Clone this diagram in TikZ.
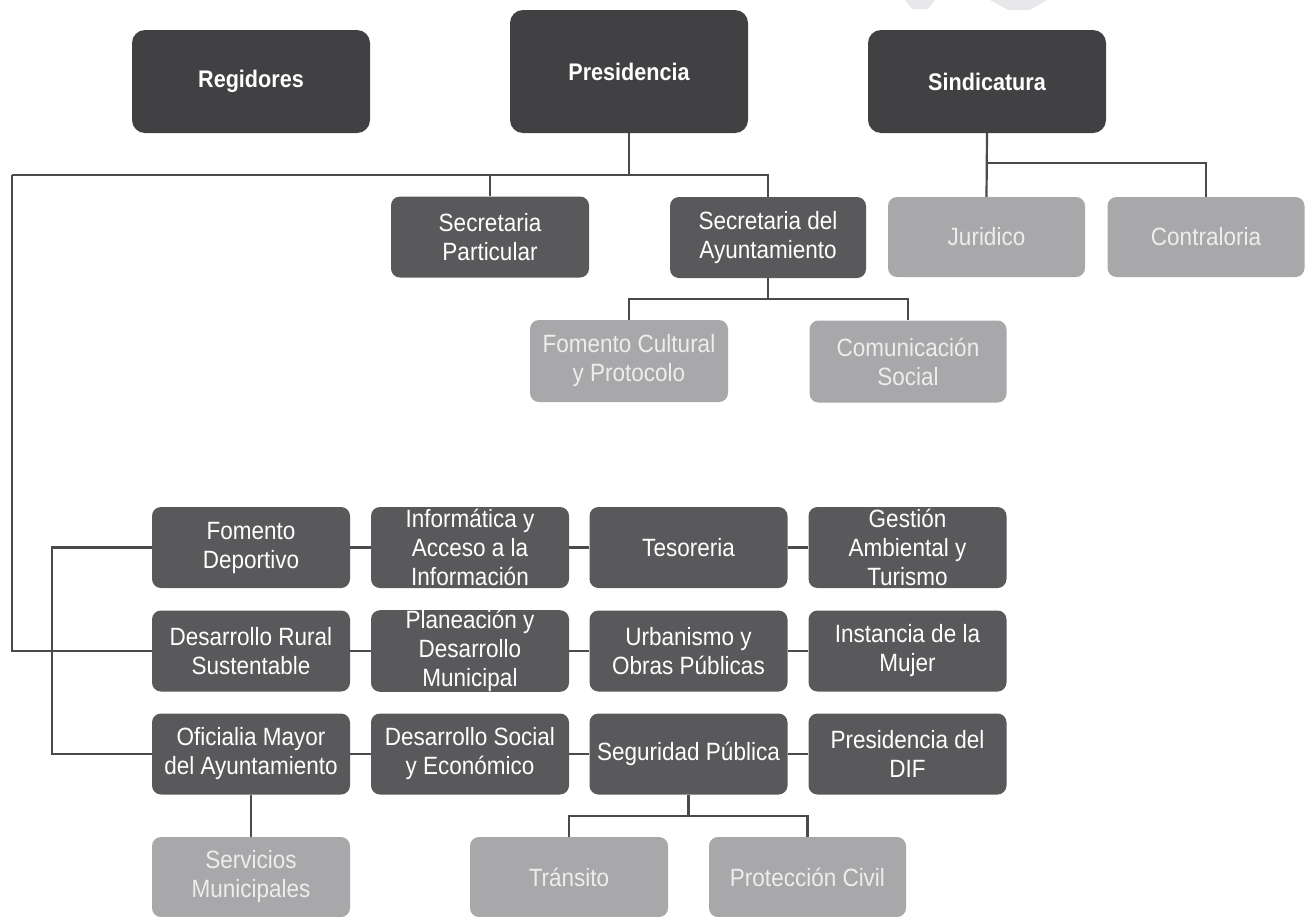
\documentclass[tikz,border=0pt]{standalone}
\usepackage{fontspec}
\setmainfont{Liberation Sans}[FakeStretch=0.9]
\newfontfamily\topfont{Liberation Sans}[FakeStretch=0.9]
\definecolor{darkbox}{HTML}{414143}
\definecolor{midbox}{HTML}{59595B}
\definecolor{lightbox}{HTML}{A8A8AA}
\definecolor{linec}{HTML}{4A4A4A}
\definecolor{lighttext}{HTML}{EDEDED}
\definecolor{wmark}{HTML}{E8E8EA}
\begin{document}
\begin{tikzpicture}[x=1pt,y=-1pt,
  base/.style={rounded corners=9pt, align=center, inner sep=0pt,
    font=\fontsize{25}{29}\selectfont},
  topbox/.style={base, rounded corners=13pt, fill=darkbox, text=white,
    minimum width=238pt, font=\topfont\bfseries\fontsize{24}{28}\selectfont},
  midbx/.style={base, fill=midbox, text=white, minimum width=198pt, minimum height=81pt},
  lightbx/.style={base, fill=lightbox, text=lighttext, minimum width=198pt, minimum height=81pt},
  conn/.style={draw=linec, line width=2.2pt}
]
\useasboundingbox (0,0) rectangle (1308,916);
% faint watermark fragments
\fill[wmark] (905,0) -- (935,0) -- (928,9) -- (912,9) -- cycle;
\fill[wmark] (990,0) -- (1047,0) -- (1030,10) -- (1008,10) -- cycle;

% top row
\node[topbox, minimum height=103pt] (reg) at (251,81.5) {Regidores};
\node[topbox, minimum height=123pt] (pres) at (629,71.5) {Presidencia};
\node[topbox, minimum height=103pt] (sind) at (987,81.5) {Sindicatura};

% second row
\node[midbx] (secp) at (490,237) {Secretaria\\Particular};
\node[midbx, minimum width=196pt] (secay) at (768,237.5) {Secretaria del\\Ayuntamiento};
\node[lightbx, minimum width=197pt, minimum height=80pt] (jur) at (986.5,237) {Juridico};
\node[lightbx, minimum width=197pt, minimum height=80pt] (contr) at (1206,237) {Contraloria};

% third row
\node[lightbx, minimum height=82pt] (fcp) at (629,361) {Fomento Cultural\\y Protocolo};
\node[lightbx, minimum width=197pt, minimum height=82pt] (cs) at (908,361.5) {Comunicación\\Social};

% grid
\node[midbx] (a1) at (251,547.5) {Fomento\\Deportivo};
\node[midbx] (b1) at (470,547.5) {Informática y\\Acceso a la\\Información};
\node[midbx] (c1) at (688.5,547.5) {Tesoreria};
\node[midbx] (d1) at (907.5,547.5) {Gestión\\Ambiental y\\Turismo};

\node[midbx] (a2) at (251,651) {Desarrollo Rural\\Sustentable};
\node[midbx] (b2) at (470,651) {Planeación y\\Desarrollo\\Municipal};
\node[midbx] (c2) at (688.5,651) {Urbanismo y\\Obras Públicas};
\node[midbx] (d2) at (907.5,651) {Instancia de la\\Mujer};

\node[midbx] (a3) at (251,754) {Oficialia Mayor\\del Ayuntamiento};
\node[midbx] (b3) at (470,754) {Desarrollo Social\\y Económico};
\node[midbx] (c3) at (688.5,754) {Seguridad Pública};
\node[midbx] (d3) at (907.5,754) {Presidencia del\\DIF};

% bottom row
\node[lightbx, minimum height=80pt] (srv) at (251,877) {Servicios\\Municipales};
\node[lightbx, minimum height=80pt] (tra) at (569,877) {Tránsito};
\node[lightbx, minimum width=197pt, minimum height=80pt] (pc) at (807.5,877) {Protección Civil};

% coordinates
\coordinate (bus) at (629,175);
\coordinate (tl) at (12,175);
\coordinate (bl) at (12,651);
\coordinate (sj) at (987,163);
\coordinate (sa) at (768,299);
\coordinate (brk) at (52,547.5);
\coordinate (sp) at (688.5,816);

% connectors
\draw[conn] (pres.south) -- (bus);
\draw[conn] (tl) -- (bus -| secay.north) -- (secay.north);
\draw[conn] (secp.north |- bus) -- (secp.north);
\draw[conn] (tl) -- (bl) -- (a2.west);
\draw[conn] (sind.south) -- (jur.north);
\draw[conn] (sj) -| (contr.north);
\draw[conn] (secay.south) -- (sa);
\draw[conn] (fcp.north) |- (sa) -| (cs.north);
\draw[conn] (a1.west) -- (brk) |- (a3.west);
\draw[conn] (a1) -- (b1); \draw[conn] (b1) -- (c1); \draw[conn] (c1) -- (d1);
\draw[conn] (a2) -- (b2); \draw[conn] (b2) -- (c2); \draw[conn] (c2) -- (d2);
\draw[conn] (a3) -- (b3); \draw[conn] (b3) -- (c3); \draw[conn] (c3) -- (d3);
\draw[conn] (a3.south) -- (srv.north);
\draw[conn] (c3.south) -- (sp);
\draw[conn] (tra.north) |- (sp) -| (pc.north);
\end{tikzpicture}
\end{document}
